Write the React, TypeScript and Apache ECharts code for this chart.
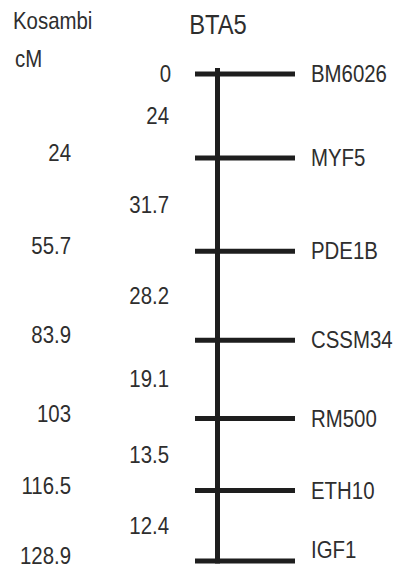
import React, { useEffect, useRef } from "react";
import * as echarts from "echarts";

// Linkage map of bovine chromosome 5 (Kosambi cM)
const CHROMOSOME = "BTA5";
const MAP_FUNCTION = "Kosambi";
const UNIT = "cM";
const MARKERS = ["BM6026", "MYF5", "PDE1B", "CSSM34", "RM500", "ETH10", "IGF1"];
const POSITIONS_CM = [0, 24, 55.7, 83.9, 103, 116.5, 128.9];
const INTERVALS_CM = [24, 31.7, 28.2, 19.1, 13.5, 12.4];

// Each marker gets a fixed extra row of space so closely linked loci stay legible.
const ROW_PAD_CM = 48;

// Condensed look: a sans face squeezed horizontally.
const FONT_FAMILY = "'Liberation Sans', Arial, sans-serif";
const SQUEEZE = 0.85;
const TITLE_SQUEEZE = 0.88;
const TEXT = "#2e2e2e";
const INK = "#1e1e1e";

// Horizontal layout (x axis runs in page pixels)
const RUNG_X0 = 195;
const RUNG_X1 = 295;
const CHROM_X = 217.5;
const NAME_X = 311;
const CUM_X = 71;
const INTERVAL_X = 169;
const FIRST_CUM_X = 171;

type Label = { x: number; y: number; text: string; align: "left" | "right"; dy: number };

function textSeries(items: Label[]) {
  return {
    type: "custom",
    silent: true,
    clip: false,
    data: items.map((it) => [it.x, it.y]),
    renderItem: (params: any, api: any) => {
      const it = items[params.dataIndex];
      const p = api.coord([api.value(0), api.value(1)]);
      return {
        type: "text",
        x: p[0],
        y: p[1] + it.dy,
        scaleX: SQUEEZE,
        style: {
          text: it.text,
          font: `24px ${FONT_FAMILY}`,
          fill: TEXT,
          align: it.align,
          textAlign: it.align,
          verticalAlign: "middle",
          textVerticalAlign: "middle",
        },
      };
    },
  };
}

function headerText(
  text: string,
  x: number,
  y: number,
  size: number,
  align: "left" | "center",
  squeeze: number
) {
  return {
    type: "text",
    x,
    y,
    scaleX: squeeze,
    silent: true,
    style: {
      text,
      font: `${size}px ${FONT_FAMILY}`,
      fill: TEXT,
      align,
      textAlign: align,
      verticalAlign: "middle",
      textVerticalAlign: "middle",
    },
  };
}

export default function App() {
  const ref = useRef<HTMLDivElement>(null);

  useEffect(() => {
    if (!ref.current) return;
    const chart = echarts.init(ref.current, undefined, { renderer: "svg" });

    const drawPos = POSITIONS_CM.map((p, i) => p + i * ROW_PAD_CM);
    const last = drawPos.length - 1;

    const nameLabels: Label[] = MARKERS.map((m, i) => ({
      x: NAME_X,
      y: drawPos[i],
      text: m,
      align: "left",
      dy: i === last ? -11 : 0,
    }));

    const cumLabels: Label[] = POSITIONS_CM.map((p, i) => ({
      x: i === 0 ? FIRST_CUM_X : CUM_X,
      y: drawPos[i],
      text: String(p),
      align: "right",
      dy: i === 0 ? 0 : -5,
    }));

    const intervalLabels: Label[] = INTERVALS_CM.map((d, i) => ({
      x: INTERVAL_X,
      y: (drawPos[i] + drawPos[i + 1]) / 2,
      text: String(d),
      align: "right",
      dy: 0,
    }));

    chart.setOption({
      animation: false,
      backgroundColor: "#ffffff",
      graphic: [
        headerText(MAP_FUNCTION, 13, 21, 24, "left", SQUEEZE),
        headerText(UNIT, 15, 59, 24, "left", SQUEEZE),
        headerText(CHROMOSOME, 218, 24, 27, "center", TITLE_SQUEEZE),
      ],
      grid: { left: 0, right: 0, top: 74, bottom: 12, containLabel: false },
      xAxis: { type: "value", min: 0, max: 396, show: false },
      yAxis: { type: "value", min: 0, max: drawPos[last], inverse: true, show: false },
      series: [
        {
          // chromosome backbone
          type: "custom",
          silent: true,
          clip: false,
          data: [[drawPos[0], drawPos[last]]],
          renderItem: (_params: any, api: any) => {
            const top = api.coord([CHROM_X, api.value(0)]);
            const bottom = api.coord([CHROM_X, api.value(1)]);
            return {
              type: "line",
              shape: { x1: top[0], y1: top[1] - 6, x2: bottom[0], y2: bottom[1] + 2.5 },
              style: { stroke: INK, lineWidth: 5 },
            };
          },
        },
        {
          // marker rungs
          type: "custom",
          silent: true,
          clip: false,
          data: drawPos.map((y) => [y]),
          renderItem: (_params: any, api: any) => {
            const a = api.coord([RUNG_X0, api.value(0)]);
            const b = api.coord([RUNG_X1, api.value(0)]);
            return {
              type: "line",
              shape: { x1: a[0], y1: a[1], x2: b[0], y2: b[1] },
              style: { stroke: INK, lineWidth: 5 },
            };
          },
        },
        textSeries(nameLabels),
        textSeries(cumLabels),
        textSeries(intervalLabels),
      ],
    });

    return () => chart.dispose();
  }, []);

  return (
    <div
      ref={ref}
      style={{ position: "fixed", left: 0, top: 0, width: 396, height: 573, background: "#fff" }}
    />
  );
}
